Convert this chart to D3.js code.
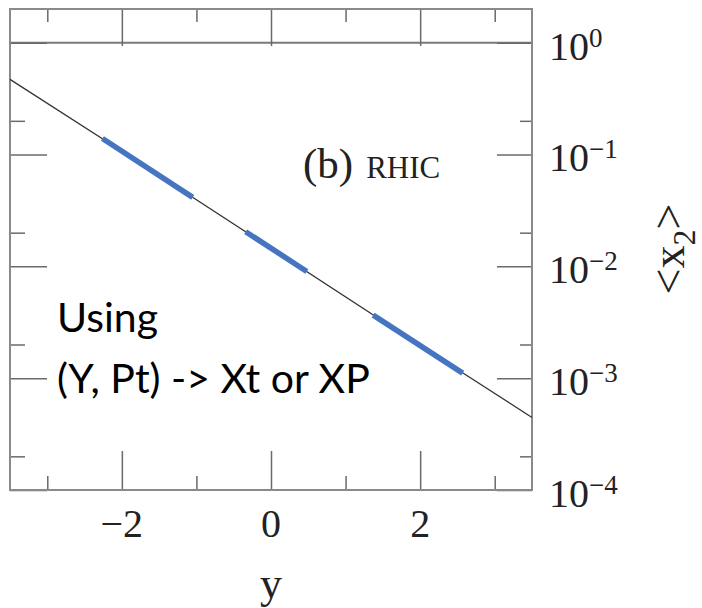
<!DOCTYPE html>
<html>
<head>
<meta charset="utf-8">
<script src="https://cdn.jsdelivr.net/npm/d3@7"></script>
<style>
  html, body { margin: 0; padding: 0; background: #fff; }
  svg { display: block; }
  .serif { font-family: "Liberation Serif", "DejaVu Serif", serif; fill: #222; }
  .note { font-family: Lato, "Open Sans", sans-serif; fill: #000; }
</style>
</head>
<body>
<svg id="chart" width="702" height="608"></svg>
<script>
// Rapidity y versus mean momentum fraction <x2> (RHIC)
const curveY  = [-3.5, -2, 0, 2, 3.5];
const curveX2 = [0.47, 0.107, 0.0145, 0.00196, 0.000445];

// Highlighted rapidity ranges (start, end) and their <x2> values
const segY  = [[-2.26, -1.05], [-0.34, 0.48], [1.37, 2.57]];
const segX2 = [[0.139, 0.0414], [0.0204, 0.009], [0.00366, 0.00111]];

// Ticks and their labels
const xMajor = [-2, 0, 2];
const xMinor = [-3, -1, 1, 3];
const xTickLabels = ["\u22122", "0", "2"];
const yMajor = [1, 0.1, 0.01, 0.001, 0.0001];
const yMinor = [0.2, 0.02, 0.002, 0.0002];
const yTickExps = ["0", "\u22121", "\u22122", "\u22123", "\u22124"];

const plotL = 10, plotR = 532, plotT = 9, plotB = 490;

const svg = d3.select("#chart");

const x = d3.scaleLinear().domain([-3.5, 3.5]).range([plotL, plotR]);
const y = d3.scaleLog().domain([1e-4, 2]).range([plotB, plotT]);

const frameColor = "#8a8a8a";
const tickColor = "#6a6a6a";

// Reference line at <x2> = 1
svg.append("line")
  .attr("x1", plotL).attr("x2", plotR)
  .attr("y1", y(1)).attr("y2", y(1))
  .attr("stroke", "#7a7a7a").attr("stroke-width", 2);

// Inward ticks on all four sides
function styleAxis(g) {
  g.select(".domain").remove();
  g.selectAll(".tick line").attr("stroke", tickColor).attr("stroke-width", 1.5);
  g.selectAll(".tick text").remove();
}
const axes = [
  [d3.axisBottom(x).tickValues(xMajor).tickSize(-39), `translate(0,${plotB})`],
  [d3.axisBottom(x).tickValues(xMinor).tickSize(-14), `translate(0,${plotB})`],
  [d3.axisTop(x).tickValues(xMajor).tickSize(-37), `translate(0,${plotT})`],
  [d3.axisTop(x).tickValues(xMinor).tickSize(-13), `translate(0,${plotT})`],
  [d3.axisLeft(y).tickValues(yMajor).tickSize(-37), `translate(${plotL},0)`],
  [d3.axisLeft(y).tickValues(yMinor).tickSize(-15), `translate(${plotL},0)`],
  [d3.axisRight(y).tickValues(yMajor).tickSize(-35), `translate(${plotR},0)`],
  [d3.axisRight(y).tickValues(yMinor).tickSize(-12), `translate(${plotR},0)`]
];
axes.forEach(([ax, tr]) => {
  svg.append("g").attr("transform", tr).call(ax.tickFormat("")).call(styleAxis);
});

// Frame
svg.append("rect")
  .attr("x", plotL).attr("y", plotT)
  .attr("width", plotR - plotL).attr("height", plotB - plotT)
  .attr("fill", "none").attr("stroke", frameColor).attr("stroke-width", 2);

// Curve
const line = d3.line().x(d => x(d[0])).y(d => y(d[1]));
svg.append("path")
  .datum(curveY.map((v, i) => [v, curveX2[i]]))
  .attr("d", line)
  .attr("fill", "none")
  .attr("stroke", "#333")
  .attr("stroke-width", 1.3);

// Highlighted ranges
svg.append("g").selectAll("path")
  .data(segY.map((s, i) => [[s[0], segX2[i][0]], [s[1], segX2[i][1]]]))
  .join("path")
  .attr("d", line)
  .attr("fill", "none")
  .attr("stroke", "#4575c1")
  .attr("stroke-width", 5.5);

// x tick labels
svg.append("g").selectAll("text")
  .data(xMajor)
  .join("text")
  .attr("class", "serif")
  .attr("x", d => x(d))
  .attr("y", 537)
  .attr("text-anchor", "middle")
  .attr("font-size", 40)
  .text((d, i) => xTickLabels[i]);

// y tick labels: 10 with superscript exponent
const yl = svg.append("g").selectAll("text")
  .data(yMajor)
  .join("text")
  .attr("class", "serif")
  .attr("x", 549)
  .attr("y", d => y(d) + 17)
  .attr("font-size", 40);
yl.append("tspan").text("10");
yl.append("tspan")
  .attr("font-size", 27)
  .attr("dy", -13)
  .text((d, i) => yTickExps[i]);

// Axis titles
svg.append("text")
  .attr("class", "serif")
  .attr("x", x(0))
  .attr("y", 598)
  .attr("text-anchor", "middle")
  .attr("font-size", 44)
  .text("y");

const yt = svg.append("text")
  .attr("class", "serif")
  .attr("transform", "translate(684,249) rotate(-90)")
  .attr("text-anchor", "middle")
  .attr("font-size", 46);
yt.append("tspan").text("<x");
yt.append("tspan").attr("font-size", 32).attr("dy", 11).text("2");
yt.append("tspan").attr("dy", -11).text(">");

// Panel label
const pl = svg.append("text")
  .attr("class", "serif")
  .attr("x", 303)
  .attr("y", 178);
pl.append("tspan").attr("font-size", 43).text("(b)");
pl.append("tspan").attr("font-size", 31).attr("dx", 13).text("RHIC");

// Annotation
const note = svg.append("text").attr("class", "note").attr("font-size", 41);
note.append("tspan").attr("x", 57).attr("y", 332).text("Using");
note.append("tspan").attr("x", 57).attr("y", 393).text("(Y, Pt) -> Xt or XP");
</script>
</body>
</html>
